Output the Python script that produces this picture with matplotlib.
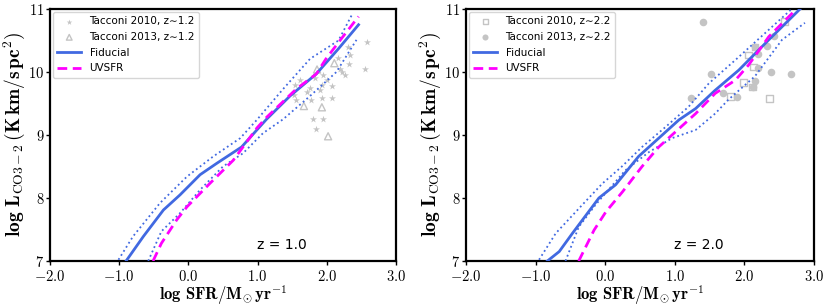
import numpy as np
import matplotlib
matplotlib.use('Agg')
import matplotlib.pyplot as plt
from matplotlib.ticker import FuncFormatter

plt.rcParams['mathtext.fontset'] = 'cm'

# ---- z = 1.0 panel ----
fid1_x = [-0.90, -0.65, -0.36, -0.12, 0.17, 0.41, 0.77, 0.99, 1.13, 1.47, 1.85, 2.17, 2.46]
fid1_y = [7.00, 7.39, 7.81, 8.05, 8.37, 8.55, 8.81, 9.08, 9.25, 9.62, 9.97, 10.37, 10.75]
uv1_x = [-0.51, -0.39, -0.17, -0.02, 0.31, 0.65, 0.79, 0.99, 1.13, 1.56, 1.85, 1.99, 2.17, 2.46]
uv1_y = [7.00, 7.28, 7.65, 7.86, 8.23, 8.60, 8.81, 9.11, 9.28, 9.73, 9.97, 10.21, 10.47, 10.88]
up1_x = [-1.01, -0.80, -0.41, -0.02, 0.36, 0.75, 0.99, 1.37, 1.76, 2.17, 2.36]
up1_y = [7.02, 7.39, 7.92, 8.34, 8.66, 8.95, 9.24, 9.73, 10.21, 10.50, 10.90]
lo1_x = [-0.58, -0.39, -0.12, 0.17, 0.50, 0.79, 1.08, 1.37, 1.76, 2.14, 2.43]
lo1_y = [7.00, 7.47, 7.76, 8.13, 8.50, 8.71, 9.03, 9.25, 9.62, 10.00, 10.51]

t10_1_x = [2.58, 2.56, 2.31, 2.34, 2.32, 2.27, 2.17, 2.22, 2.07, 2.07, 1.95, 1.80,
           1.85, 1.95, 2.00, 1.93, 1.90, 1.93, 1.76, 1.78, 1.71, 1.61, 1.54, 1.52,
           1.56, 1.83, 2.19]
t10_1_y = [10.47, 10.04, 10.39, 10.27, 10.12, 9.96, 10.22, 10.00, 9.77, 9.58, 9.26, 9.26,
           9.09, 9.95, 9.87, 9.79, 9.71, 9.58, 9.74, 9.56, 9.69, 9.87, 9.79, 9.63,
           9.56, 9.90, 10.04]
t13_1_x = [2.11, 1.86, 1.67, 1.93, 2.02]
t13_1_y = [10.14, 10.04, 9.46, 9.44, 8.98]

# ---- z = 2.0 panel ----
fid2_x = [-0.83, -0.66, -0.47, -0.09, 0.15, 0.48, 0.77, 1.06, 1.30, 1.58, 1.92, 2.35, 2.80]
fid2_y = [7.00, 7.15, 7.44, 8.00, 8.21, 8.66, 8.95, 9.24, 9.42, 9.71, 10.03, 10.51, 11.00]
uv2_x = [-0.38, -0.16, 0.01, 0.25, 0.53, 0.77, 1.01, 1.30, 1.58, 1.87, 2.06, 2.35, 2.73]
uv2_y = [7.00, 7.49, 7.78, 8.10, 8.50, 8.81, 9.05, 9.34, 9.66, 9.87, 10.11, 10.56, 10.98]
up2_x = [-0.95, -0.71, -0.33, -0.04, 0.24, 0.53, 0.87, 1.20, 1.49, 1.87, 2.35, 2.68]
up2_y = [7.02, 7.44, 7.89, 8.23, 8.50, 8.81, 9.13, 9.45, 9.82, 10.19, 10.67, 11.00]
lo2_x = [-0.57, -0.38, -0.14, 0.29, 0.63, 0.96, 1.30, 1.58, 1.77, 2.15, 2.54, 2.87]
lo2_y = [7.00, 7.54, 7.89, 8.44, 8.73, 8.95, 9.08, 9.34, 9.56, 9.93, 10.51, 10.78]

t10_2_x = [2.36, 1.80, 1.99, 2.13, 2.15, 2.06, 2.12, 2.58]
t10_2_y = [9.58, 9.61, 9.83, 10.08, 10.40, 10.27, 9.76, 10.80]
t13_2_x = [1.41, 1.52, 1.23, 1.70, 1.90, 2.15, 2.20, 2.20, 2.32, 2.38, 2.43, 2.67,
           2.15, 2.12]
t13_2_y = [10.79, 9.97, 9.58, 9.67, 9.60, 9.85, 10.28, 10.06, 10.41, 10.00, 10.57, 9.97,
           10.40, 9.76]

blue = '#4169e1'
grey = '#c4c4c4'

fig = plt.figure(figsize=(8.3, 3.07), dpi=100)
ax1 = fig.add_axes([0.0602, 0.1498, 0.4168, 0.8209])
ax2 = fig.add_axes([0.5614, 0.1498, 0.4193, 0.8209])

tick_fmt = FuncFormatter(lambda v, p: r'$\mathbf{%.1f}$' % v)
ytick_fmt = FuncFormatter(lambda v, p: r'$\mathbf{%d}$' % v)


def panel(ax, fx, fy, ux, uy, upx, upy, lox, loy, ztxt):
    ax.plot(fx, fy, color=blue, lw=2, label='Fiducial', zorder=3)
    ax.plot(ux, uy, color='magenta', lw=2, ls=(0, (3.5, 2)), label='UVSFR', zorder=4)
    ax.plot(upx, upy, color=blue, lw=1.3, ls=':', zorder=3)
    ax.plot(lox, loy, color=blue, lw=1.3, ls=':', zorder=3)
    ax.set_xlim(-2, 3)
    ax.set_ylim(7, 11)
    ax.set_xticks([-2, -1, 0, 1, 2, 3])
    ax.set_yticks([7, 8, 9, 10, 11])
    ax.xaxis.set_major_formatter(tick_fmt)
    ax.yaxis.set_major_formatter(ytick_fmt)
    ax.tick_params(labelsize=10.5, length=3, width=1)
    ax.tick_params(axis='x', pad=2.5)
    ax.tick_params(axis='y', pad=1)
    for s in ax.spines.values():
        s.set_linewidth(1.6)
    ax.set_xlabel(r'$\mathbf{log\ SFR/M}_{\odot}\,\mathbf{yr}^{-1}$', fontsize=12, labelpad=0)
    ax.set_ylabel(r'$\mathbf{log\ L}_{\rm CO3-2}\,\mathbf{(K\,km/s\,pc^2)}$', fontsize=14, labelpad=1)
    ax.text(1.35, 7.25, ztxt, fontsize=10, ha='center', va='center')


ax1.scatter(t10_1_x, t10_1_y, marker='*', s=28, color=grey, lw=0, label='Tacconi 2010, z\u223c1.2', zorder=2)
ax1.scatter(t13_1_x, t13_1_y, marker='^', s=26, facecolor='none', edgecolor=grey, lw=1, label='Tacconi 2013, z\u223c1.2', zorder=2)
panel(ax1, fid1_x, fid1_y, uv1_x, uv1_y, up1_x, up1_y, lo1_x, lo1_y, 'z = 1.0')

ax2.scatter(t10_2_x, t10_2_y, marker='s', s=22, facecolor='none', edgecolor=grey, lw=1, label='Tacconi 2010, z\u223c2.2', zorder=2)
ax2.scatter(t13_2_x, t13_2_y, marker='o', s=30, color=grey, lw=0, label='Tacconi 2013, z\u223c2.2', zorder=1)
panel(ax2, fid2_x, fid2_y, uv2_x, uv2_y, up2_x, up2_y, lo2_x, lo2_y, 'z = 2.0')

for ax in (ax1, ax2):
    ax.legend(loc='upper left', fontsize=7.5, frameon=True, handlelength=2.3,
              borderaxespad=0.3, labelspacing=0.55, markerscale=0.8)

fig.savefig('out.png', dpi=100)
